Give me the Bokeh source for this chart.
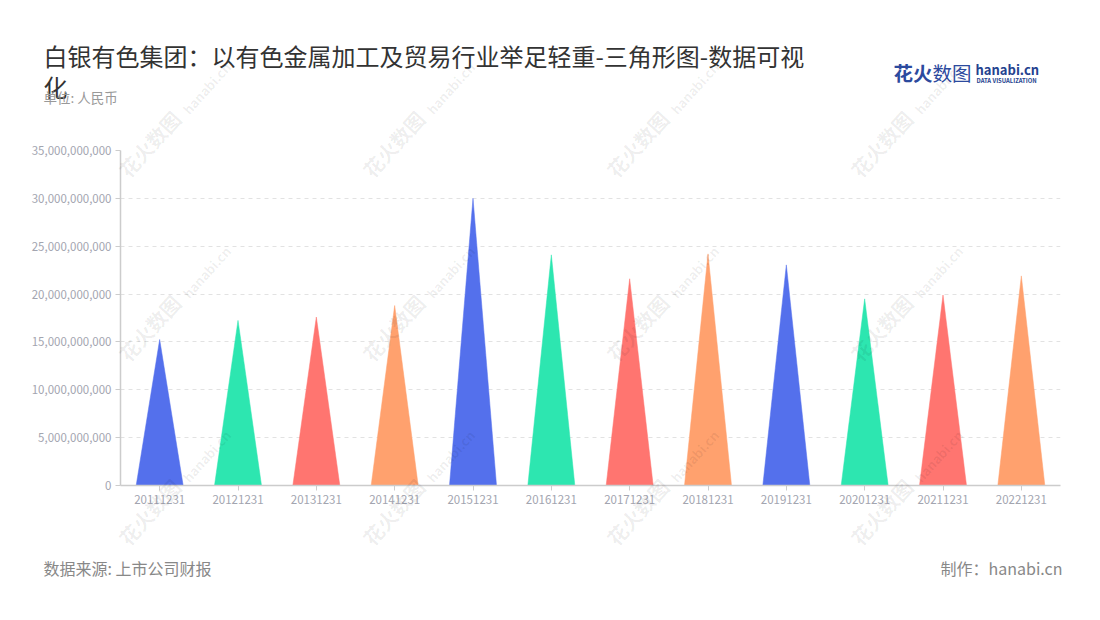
import math
from bokeh.plotting import figure
from bokeh.layouts import column
from bokeh.models import Range1d, FixedTicker, NumeralTickFormatter, ColumnDataSource
from bokeh.core.properties import value
from bokeh.embed import file_html
from bokeh.resources import INLINE

# ---------------- data ----------------
dates = ["20111231", "20121231", "20131231", "20141231", "20151231", "20161231",
         "20171231", "20181231", "20191231", "20201231", "20211231", "20221231"]
values = [15.25e9, 17.25e9, 17.6e9, 18.8e9, 30.0e9, 24.1e9,
          21.6e9, 24.2e9, 23.05e9, 19.5e9, 19.9e9, 21.9e9]
palette = ["#5470EC", "#2DE6B0", "#FF7570", "#FFA16E"]
y_ticks = [0, 5e9, 10e9, 15e9, 20e9, 25e9, 30e9, 35e9]
y_max = 35e9

title_line1 = "白银有色集团：以有色金属加工及贸易行业举足轻重-三角形图-数据可视"
title_line2 = "化"
subtitle = "单位: 人民币"
source_text = "数据来源: 上市公司财报"
maker_text = "制作：hanabi.cn"
wm_cn = "花火数图"
wm_en = "hanabi.cn"

FONT = "Noto Sans CJK SC"

# ---------------- geometry (page pixels) ----------------
W, H = 1084, 604
FL, FR, FT, FB = 120, 1060, 150, 485
n = len(dates)

# ---------------- main chart ----------------
p = figure(width=W, height=H, output_backend="svg", toolbar_location=None,
           x_range=Range1d(-0.5, n - 0.5), y_range=Range1d(0, y_max),
           min_border_left=FL, min_border_right=W - FR,
           min_border_top=FT, min_border_bottom=H - FB)
p.outline_line_color = None
p.background_fill_color = "white"
p.border_fill_color = "white"

half = 0.3
xs = [[i - half, i, i + half] for i in range(n)]
ys = [[0, v, 0] for v in values]
colors = [palette[i % len(palette)] for i in range(n)]
src = ColumnDataSource(dict(xs=xs, ys=ys, color=colors))
p.patches("xs", "ys", source=src, fill_color="color", line_color="color",
          line_width=0.5)

p.xaxis.ticker = FixedTicker(ticks=list(range(n)))
p.xaxis.major_label_overrides = {i: d for i, d in enumerate(dates)}
p.yaxis.ticker = FixedTicker(ticks=y_ticks)
p.yaxis.formatter = NumeralTickFormatter(format="0,0")
for ax in (p.xaxis, p.yaxis):
    ax.axis_line_color = "#cccccc"
    ax.axis_line_width = 1.5
    ax.major_tick_line_color = "#cccccc"
    ax.major_tick_out = 5
    ax.major_tick_in = 0
    ax.minor_tick_line_color = None
    ax.major_label_text_color = "#a3a5b0"
    ax.major_label_text_font = FONT
    ax.major_label_text_font_size = "11.5px"
p.yaxis.major_label_standoff = 4
p.xaxis.major_label_standoff = 4
p.xgrid.visible = False
p.ygrid.grid_line_color = "#e2e2e2"
p.ygrid.grid_line_dash = "4 4"
p.ygrid.grid_line_width = 1

# ---------------- transparent overlay for texts outside the plot frame ----------------
ov = figure(width=W, height=H, output_backend="svg", toolbar_location=None,
            x_range=Range1d(0, W), y_range=Range1d(H, 0),
            x_axis_type=None, y_axis_type=None,
            min_border_left=0, min_border_right=0, min_border_top=0, min_border_bottom=0)
ov.min_border = 0
ov.outline_line_color = None
ov.xgrid.visible = False
ov.ygrid.visible = False
ov.background_fill_alpha = 0
ov.border_fill_alpha = 0
ov.frame_align = False
ov.styles = {"margin-top": f"-{H}px"}


def put(text, x, y, size, color, align="left", baseline="middle",
        style="normal", angle=0, alpha=1.0):
    ov.text(x=[x], y=[y], text=[text], text_font=value(FONT),
            text_font_size=f"{size}px", text_color=color, text_align=align,
            text_baseline=baseline, text_font_style=style, angle=angle,
            angle_units="deg", text_alpha=alpha)


# watermarks
ang = 48
for wx in (133, 377, 621, 865):
    for wy in (183, 367, 551):
        d = 88
        ex = wx + d * math.cos(math.radians(ang))
        ey = wy - d * math.sin(math.radians(ang))
        put(wm_cn, wx, wy, 20, "#000000", baseline="bottom", style="bold",
            angle=ang, alpha=0.07)
        put(wm_en, ex, ey, 13, "#000000", baseline="bottom", style="bold",
            angle=ang, alpha=0.07)

# header
put(title_line1, 43, 55, 24, "#333333")
put(title_line2, 43, 86, 24, "#333333")
put(subtitle, 43, 96, 13.5, "#999999")
put("花火", 893, 72, 19.5, "#2c4a9e", style="bold")
put("数图", 932, 72, 19.5, "#2c4a9e")
put("hanabi.cn", 975, 69, 13, "#24428f", style="bold")
put("DATA VISUALIZATION", 976, 80, 5.9, "#24428f", style="bold")

# footer
put(source_text, 43, 567, 16, "#888888")
put(maker_text, 1062, 567, 16, "#888888", align="right")

layout = column(p, ov, spacing=0)
open("out.html", "w").write(file_html(layout, INLINE))
